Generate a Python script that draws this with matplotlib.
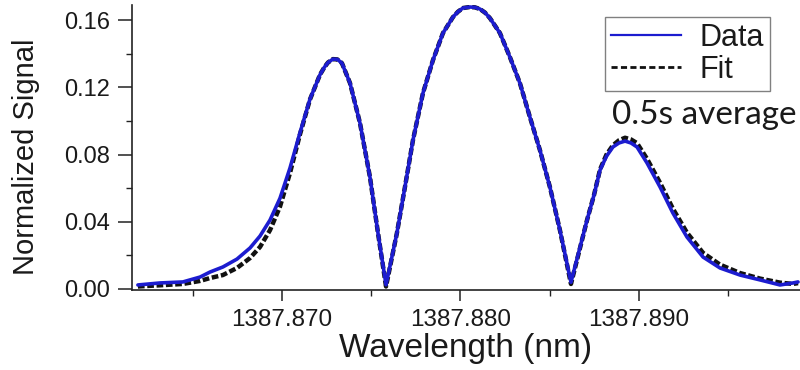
import matplotlib
matplotlib.use("Agg")
import matplotlib.pyplot as plt
from matplotlib.lines import Line2D
from matplotlib.ticker import MultipleLocator, FormatStrFormatter

# Transmission spectrum: measured signal and model fit
wavelength_nm = [
    1387.86193, 1387.86317, 1387.86445, 1387.86541, 1387.86597, 1387.86669,
    1387.86748, 1387.86821, 1387.86877, 1387.86933, 1387.86989, 1387.87045,
    1387.87101, 1387.87157, 1387.87213, 1387.87238, 1387.87258, 1387.87286,
    1387.87311, 1387.87336, 1387.87381, 1387.87437, 1387.87493, 1387.87538,
    1387.87583, 1387.87644, 1387.87689, 1387.87734, 1387.87790, 1387.87846,
    1387.87902, 1387.87958, 1387.87986, 1387.88014, 1387.88053, 1387.88081,
    1387.88109, 1387.88137, 1387.88165, 1387.88221, 1387.88277, 1387.88333,
    1387.88389, 1387.88445, 1387.88501, 1387.88557, 1387.88619, 1387.88709,
    1387.88748, 1387.88782, 1387.88818, 1387.88854, 1387.88888, 1387.88922,
    1387.88955, 1387.88989, 1387.89045, 1387.89118, 1387.89190, 1387.89269,
    1387.89359, 1387.89454, 1387.89566, 1387.89678, 1387.89790, 1387.89863,
    1387.89891,
]

signal_data = [
    0.0024, 0.0036, 0.0042, 0.0071, 0.0101, 0.0131,
    0.0178, 0.0244, 0.0315, 0.0410, 0.0540, 0.0720,
    0.0930, 0.1130, 0.1275, 0.1320, 0.1348, 0.1368,
    0.1366, 0.1344, 0.1226, 0.0988, 0.0666, 0.0333,
    0.0025, 0.0333, 0.0607, 0.0886, 0.1166, 0.1362,
    0.1523, 0.1618, 0.1650, 0.1672, 0.1678, 0.1676,
    0.1666, 0.1645, 0.1612, 0.1523, 0.1380, 0.1225,
    0.1023, 0.0827, 0.0607, 0.0351, 0.0040, 0.0410,
    0.0559, 0.0708, 0.0790, 0.0845, 0.0869, 0.0880,
    0.0869, 0.0845, 0.0750, 0.0607, 0.0452, 0.0309,
    0.0190, 0.0125, 0.0083, 0.0054, 0.0024, 0.0036,
    0.0042,
]

signal_fit = [
    0.0015, 0.0022, 0.0030, 0.0048, 0.0065, 0.0083,
    0.0125, 0.0184, 0.0250, 0.0350, 0.0490, 0.0690,
    0.0920, 0.1128, 0.1275, 0.1320, 0.1348, 0.1368,
    0.1366, 0.1344, 0.1226, 0.0988, 0.0666, 0.0333,
    0.0015, 0.0333, 0.0607, 0.0886, 0.1166, 0.1362,
    0.1523, 0.1618, 0.1650, 0.1672, 0.1678, 0.1676,
    0.1666, 0.1645, 0.1612, 0.1523, 0.1380, 0.1225,
    0.1023, 0.0827, 0.0607, 0.0351, 0.0030, 0.0410,
    0.0559, 0.0712, 0.0800, 0.0855, 0.0885, 0.0900,
    0.0890, 0.0868, 0.0775, 0.0632, 0.0478, 0.0335,
    0.0215, 0.0145, 0.0095, 0.0062, 0.0038, 0.0030,
    0.0035,
]

series_labels = ["Data", "Fit"]
note_text = "0.5s average"

plt.rcParams["font.family"] = ["Liberation Sans", "DejaVu Sans"]
text_color = "#1a1a1a"
data_color = "#1c1ccf"

fig = plt.figure(figsize=(8.0, 3.7), dpi=100)
ax = fig.add_axes([0.165, 0.2162, 0.835, 0.7703])

ax.plot(wavelength_nm, signal_fit, color="#111111", lw=3.2,
        linestyle=(0, (1.5, 0.6)), zorder=2)
ax.plot(wavelength_nm, signal_data, color=data_color, lw=2.6, zorder=3,
        solid_joinstyle="round", solid_capstyle="round")

ax.set_xlim(1387.86160, 1387.89902)
ax.set_ylim(-0.0006, 0.169)

ax.xaxis.set_major_locator(MultipleLocator(0.010))
ax.xaxis.set_minor_locator(MultipleLocator(0.005))
ax.xaxis.set_major_formatter(FormatStrFormatter("%.3f"))
ax.yaxis.set_major_locator(MultipleLocator(0.04))
ax.yaxis.set_minor_locator(MultipleLocator(0.02))
ax.yaxis.set_major_formatter(FormatStrFormatter("%.2f"))

for side in ("top", "right"):
    ax.spines[side].set_visible(False)
for side in ("left", "bottom"):
    ax.spines[side].set_linewidth(1.2)
    ax.spines[side].set_color("#222222")

ax.tick_params(axis="y", which="major", direction="out", length=10,
               width=1.1, pad=6, labelsize=17, colors="#222222",
               labelcolor=text_color)
ax.tick_params(axis="y", which="minor", direction="out", length=4.5,
               width=1.0, colors="#222222")
ax.tick_params(axis="x", which="major", direction="out", length=8,
               width=1.1, pad=6, labelsize=17.5, colors="#222222",
               labelcolor=text_color)
ax.tick_params(axis="x", which="minor", direction="out", length=4.5,
               width=1.0, colors="#222222")

ax.set_xlabel("Wavelength (nm)", fontsize=24, color=text_color, labelpad=1)
ax.set_ylabel("Normalized Signal", fontsize=21, color=text_color)
ax.yaxis.set_label_coords(-0.137, 0.467)

handles = [
    Line2D([], [], color=data_color, lw=1.6),
    Line2D([], [], color="#111111", lw=2.0, linestyle=(0, (2.2, 1.2))),
]
leg = ax.legend(handles, series_labels, loc="upper left",
                bbox_to_anchor=(0.756, 0.954), bbox_transform=fig.transFigure,
                fontsize=22, frameon=True, fancybox=False, framealpha=1,
                edgecolor="#808080", borderaxespad=0, borderpad=0.2,
                handlelength=2.3, handletextpad=0.6, labelspacing=0.05)
leg.get_frame().set_linewidth(1.0)
for t in leg.get_texts():
    t.set_color(text_color)

fig.text(0.996, 1 - 124 / 370, note_text, ha="right", va="baseline",
         fontsize=24, family=["Lato", "DejaVu Sans"], color=text_color)

fig.savefig("out.png", dpi=100)
